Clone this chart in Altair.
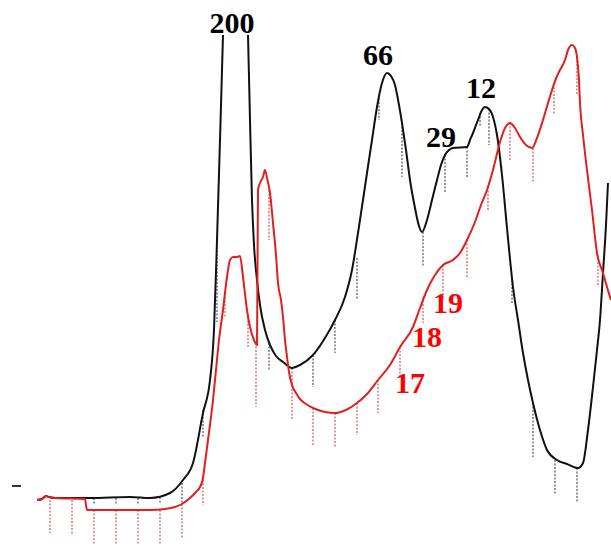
import altair as alt
import pandas as pd

# ---- traces (x position, reading measured downward from top of the chart) ----
black_a_x = [37, 42, 46, 49, 55, 90, 130, 150, 170, 183, 193, 203, 210, 214, 217, 220, 223]
black_a_y = [500, 499, 496, 497, 498, 498, 497, 498, 493, 480, 463, 413, 380, 330, 240, 140, 35]

black_b_x = [248, 250, 252, 254, 257, 260, 265, 270, 276, 283, 292, 300, 313, 325, 335, 345, 352,
             358, 363, 367, 372, 377, 382, 387, 391, 395, 399, 402, 406, 410, 415, 419, 422, 427,
             432, 437, 441, 445, 449, 453, 467, 470, 473, 478, 482, 485, 489, 493, 497, 502, 507,
             513, 518, 523, 528, 533, 540, 547, 557, 567, 578, 583, 588, 593, 597, 600, 603, 606, 608]
black_b_y = [35, 120, 200, 245, 280, 305, 330, 345, 356, 362, 368, 365, 355, 338, 320, 297, 270,
             233, 200, 173, 140, 107, 83, 73, 76, 85, 105, 123, 150, 180, 208, 226, 232, 220,
             200, 180, 165, 155, 150, 148, 147, 140, 133, 120, 110, 107, 109, 117, 135, 175, 228,
             287, 320, 353, 380, 403, 430, 450, 460, 464, 468, 463, 430, 387, 350, 320, 273, 225, 183]

red_x = [37, 42, 46, 49, 55, 85, 86, 87, 100, 150, 165, 175, 182, 190, 196, 200, 203, 205, 208,
         210, 213, 216, 219, 223, 227, 230, 233, 237, 240, 243, 247, 250, 254, 257, 258, 260, 263,
         265, 267, 270, 273, 276, 278, 281, 283, 285, 287, 289, 292, 296, 300, 306, 313, 325, 335,
         346, 357, 368, 378, 390, 400, 413, 420, 427, 435, 443, 453, 460, 467, 475, 481, 487, 493,
         500, 505, 510, 515, 520, 526, 532, 537, 543, 548, 553, 557, 560, 565, 568, 572, 575, 577,
         579, 580, 583, 587, 592, 597, 603, 607, 611]
red_y = [500, 499, 496, 497, 498, 499, 505, 510, 510, 510, 509, 507, 504, 498, 492, 487, 478, 463,
         440, 425, 400, 370, 340, 310, 277, 260, 257, 257, 256, 277, 310, 327, 340, 345, 190, 183,
         177, 170, 178, 193, 223, 255, 283, 300, 317, 340, 357, 372, 385, 393, 399, 404, 408, 412,
         413, 410, 403, 393, 380, 365, 347, 327, 308, 290, 275, 265, 260, 253, 240, 222, 205, 190,
         170, 142, 128, 123, 128, 137, 145, 148, 138, 120, 103, 87, 76, 70, 60, 50, 45, 48, 57,
         80, 103, 135, 170, 210, 253, 273, 287, 300]

# ---- fraction ticks: x, top, bottom ----
black_tick_x = [94, 116, 138, 160, 182, 203, 217, 269, 313, 335, 357, 379, 402, 423, 445, 467,
                480, 489, 512, 533, 555, 577]
black_tick_top = [498, 498, 498, 497, 483, 410, 240, 343, 355, 320, 258, 95, 123, 232, 155, 147,
                  113, 109, 280, 403, 460, 468]
black_tick_bot = [505, 505, 505, 504, 503, 438, 322, 370, 387, 353, 300, 120, 177, 267, 193, 178,
                  127, 145, 303, 457, 495, 502]

red_tick_x = [50, 72, 94, 116, 138, 160, 182, 203, 225, 248, 256, 269, 292, 313, 335, 357, 378,
              400, 423, 443, 467, 488, 510, 533, 554, 577, 598]
red_tick_top = [500, 500, 510, 510, 510, 510, 504, 480, 297, 317, 343, 190, 368, 408, 413, 403,
                380, 347, 297, 265, 240, 187, 123, 148, 87, 57, 255]
red_tick_bot = [533, 535, 545, 545, 545, 545, 538, 505, 318, 347, 407, 240, 420, 445, 447, 435,
                413, 377, 323, 298, 277, 210, 160, 183, 115, 95, 287]

# ---- labels ----
label_text = ["200", "66", "29", "12", "19", "18", "17"]
label_x = [232, 378, 441, 481, 448, 427, 410]
label_y = [33, 65, 147, 98, 313, 347, 393]
label_trace = ["black", "black", "black", "black", "red", "red", "red"]

# ---- build tables ----
rows = []
for x, y in zip(black_a_x, black_a_y):
    rows.append({"x": x, "y": y, "trace": "black", "seg": "black_a"})
for x, y in zip(black_b_x, black_b_y):
    rows.append({"x": x, "y": y, "trace": "black", "seg": "black_b"})
for x, y in zip(red_x, red_y):
    rows.append({"x": x, "y": y, "trace": "red", "seg": "red"})
lines = pd.DataFrame(rows)
lines["order"] = range(len(lines))

ticks = pd.DataFrame(
    [{"x": x, "y": t, "y2": b, "trace": "black"} for x, t, b in zip(black_tick_x, black_tick_top, black_tick_bot)]
    + [{"x": x, "y": t, "y2": b, "trace": "red"} for x, t, b in zip(red_tick_x, red_tick_top, red_tick_bot)]
)

labels = pd.DataFrame({"text": label_text, "x": label_x, "y": label_y, "trace": label_trace})

xs = alt.Scale(domain=[0, 611], nice=False, zero=False)
ys = alt.Scale(domain=[0, 546], nice=False, zero=False, reverse=True)

X = alt.X("x:Q", scale=xs, axis=None)
Y = alt.Y("y:Q", scale=ys, axis=None)

tick_layer = alt.Chart(ticks).mark_rule(strokeWidth=1.1, strokeDash=[2, 1.5]).encode(
    x=X, y=Y, y2="y2:Q",
    stroke=alt.Stroke("trace:N", scale=alt.Scale(domain=["black", "red"], range=["#444444", "#d24848"]), legend=None),
)

line_layer = alt.Chart(lines).mark_line(strokeWidth=2, interpolate="monotone").encode(
    x=X, y=Y, detail="seg:N", order="order:Q",
    color=alt.Color("trace:N", scale=alt.Scale(domain=["black", "red"], range=["#111111", "#e0201f"]), legend=None),
)

text_layer = alt.Chart(labels).mark_text(
    font="Liberation Serif", fontWeight="bold", fontSize=30, align="center", baseline="alphabetic"
).encode(
    x=X, y=Y, text="text:N",
    fill=alt.Fill("trace:N", scale=alt.Scale(domain=["black", "red"], range=["#000000", "#ff0000"]), legend=None),
)

dash_mark = alt.Chart(pd.DataFrame({"x": [12], "x2": [21], "y": [486]})).mark_rule(
    strokeWidth=2, color="#333333"
).encode(x=X, x2="x2:Q", y=Y)

chart = alt.layer(tick_layer, line_layer, text_layer, dash_mark).resolve_scale(
    color="independent", stroke="independent", fill="independent"
).properties(
    width=611, height=546, padding=0, autosize=alt.AutoSizeParams(type="none"), background="white"
).configure_view(stroke=None)

chart.save("out.html", embed_options={"renderer": "svg", "actions": False})
